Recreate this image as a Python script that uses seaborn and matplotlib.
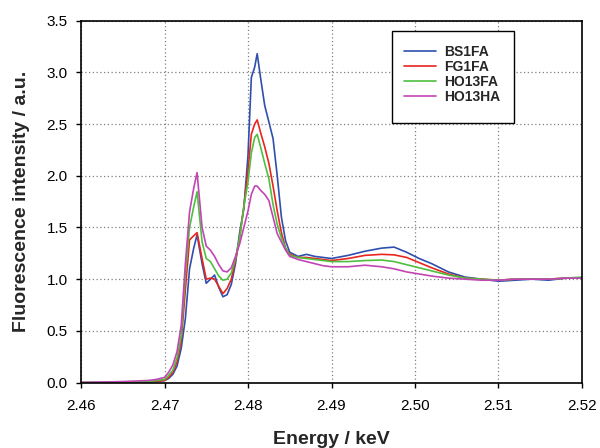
import pandas as pd
import matplotlib
matplotlib.use("Agg")
import matplotlib.pyplot as plt
import seaborn as sns
from matplotlib.patches import Rectangle

# energy grid (keV) shared by all spectra
energy = [2.460, 2.465, 2.468, 2.469, 2.4700, 2.4705, 2.4710, 2.4715, 2.4720, 2.4725,
          2.4730, 2.4735, 2.4739, 2.4745, 2.4750, 2.4755, 2.4760, 2.4765, 2.4770, 2.4775,
          2.4780, 2.4785, 2.4790, 2.4795, 2.4800, 2.4804, 2.4808, 2.4811, 2.4815, 2.4820,
          2.4825, 2.4830, 2.4835, 2.4840, 2.4845, 2.4850, 2.4860, 2.4870, 2.4880, 2.4890,
          2.4900, 2.4920, 2.4940, 2.4960, 2.4975, 2.4990, 2.5005, 2.5020, 2.5040, 2.5060,
          2.5080, 2.5100, 2.5120, 2.5140, 2.5160, 2.5180, 2.5200]

bs1fa = [0.00, 0.00, 0.005, 0.01, 0.02, 0.04, 0.08, 0.16, 0.33, 0.62,
         1.10, 1.30, 1.43, 1.15, 0.96, 1.00, 1.04, 0.92, 0.83, 0.85,
         0.95, 1.15, 1.45, 1.68, 2.20, 2.95, 3.05, 3.18, 2.95, 2.68,
         2.52, 2.36, 2.00, 1.60, 1.37, 1.26, 1.22, 1.24, 1.22, 1.21,
         1.20, 1.23, 1.27, 1.30, 1.31, 1.26, 1.20, 1.15, 1.07, 1.02,
         1.00, 0.98, 0.99, 1.00, 0.99, 1.01, 1.01]

fg1fa = [0.00, 0.00, 0.01, 0.015, 0.02, 0.05, 0.10, 0.20, 0.40, 0.90,
         1.38, 1.42, 1.45, 1.20, 1.00, 1.01, 1.00, 0.93, 0.86, 0.91,
         1.00, 1.18, 1.40, 1.70, 2.05, 2.40, 2.50, 2.54, 2.42, 2.28,
         2.12, 1.90, 1.66, 1.45, 1.30, 1.24, 1.21, 1.21, 1.20, 1.19,
         1.18, 1.20, 1.23, 1.24, 1.235, 1.21, 1.16, 1.11, 1.05, 1.01,
         1.00, 0.99, 1.00, 1.00, 1.00, 1.01, 1.01]

ho13fa = [0.00, 0.00, 0.01, 0.02, 0.03, 0.07, 0.12, 0.24, 0.45, 1.05,
          1.50, 1.70, 1.845, 1.36, 1.20, 1.17, 1.10, 1.03, 0.99, 1.00,
          1.06, 1.20, 1.40, 1.70, 1.94, 2.22, 2.37, 2.40, 2.28, 2.12,
          1.97, 1.72, 1.53, 1.40, 1.30, 1.23, 1.21, 1.20, 1.19, 1.18,
          1.17, 1.17, 1.18, 1.185, 1.17, 1.14, 1.11, 1.08, 1.04, 1.01,
          1.00, 0.99, 1.00, 1.00, 1.00, 1.01, 1.02]

ho13ha = [0.00, 0.01, 0.02, 0.03, 0.05, 0.10, 0.17, 0.30, 0.55, 1.15,
          1.65, 1.88, 2.03, 1.50, 1.32, 1.28, 1.22, 1.14, 1.08, 1.07,
          1.11, 1.22, 1.34, 1.50, 1.66, 1.82, 1.90, 1.90, 1.86, 1.82,
          1.76, 1.60, 1.44, 1.36, 1.28, 1.22, 1.19, 1.17, 1.15, 1.13,
          1.12, 1.12, 1.135, 1.12, 1.10, 1.07, 1.05, 1.03, 1.01, 1.00,
          0.99, 0.99, 1.00, 1.00, 1.00, 1.01, 1.01]

samples = ["BS1FA", "FG1FA", "HO13FA", "HO13HA"]
colors = ["#2f4fae", "#e8261f", "#4fbf3f", "#c245b5"]

x_ticks = [2.46, 2.47, 2.48, 2.49, 2.50, 2.51, 2.52]
y_ticks = [0.0, 0.5, 1.0, 1.5, 2.0, 2.5, 3.0, 3.5]

frames = []
for name, vals in zip(samples, [bs1fa, fg1fa, ho13fa, ho13ha]):
    frames.append(pd.DataFrame({"energy": energy, "intensity": vals, "sample": name}))
df = pd.concat(frames, ignore_index=True)

sns.set_style("ticks")
plt.rcParams["font.family"] = ["Liberation Sans", "DejaVu Sans"]

fig = plt.figure(figsize=(6, 4.48), dpi=100)
ax = fig.add_axes([0.135, 0.146, 0.835, 0.808])

sns.lineplot(data=df, x="energy", y="intensity", hue="sample", hue_order=samples,
             palette=colors, estimator=None, linewidth=1.2, ax=ax, legend=True)

ax.set_xlim(2.46, 2.52)
ax.set_ylim(0, 3.5)
ax.set_xticks(x_ticks)
ax.set_xticklabels([f"{t:.2f}" for t in x_ticks])
ax.set_yticks(y_ticks)
ax.set_yticklabels([f"{t:.1f}" for t in y_ticks])
ax.grid(True, color="#808080", linestyle=(0, (1, 2)), linewidth=0.9)
ax.set_axisbelow(True)

for sp in ax.spines.values():
    sp.set_visible(True)
    sp.set_color("black")
    sp.set_linewidth(1.2)

ax.tick_params(axis="both", direction="out", length=3.5, width=1, labelsize=11, colors="black")
ax.tick_params(axis="x", pad=8)
ax.tick_params(axis="y", pad=6)

ax.set_xlabel("Energy / keV", fontsize=14, fontweight="bold", labelpad=13)
ax.set_ylabel("Fluorescence intensity / a.u.", fontsize=14, fontweight="bold", labelpad=12)

# legend box
box = Rectangle((0.621, 0.717), 0.243, 0.254, transform=ax.transAxes,
                facecolor="white", edgecolor="black", linewidth=1.0, zorder=5)
ax.add_patch(box)
handles, labels = ax.get_legend_handles_labels()
leg = ax.legend(handles, labels, loc="upper left", bbox_to_anchor=(0.617, 0.972),
                frameon=False, prop={"weight": "bold", "size": 10},
                handlelength=2.3, handletextpad=0.6, labelspacing=0.08, borderpad=0.5)
leg.set_zorder(6)
for line in leg.get_lines():
    line.set_linewidth(1.2)

plt.savefig("out.png", dpi=100)
